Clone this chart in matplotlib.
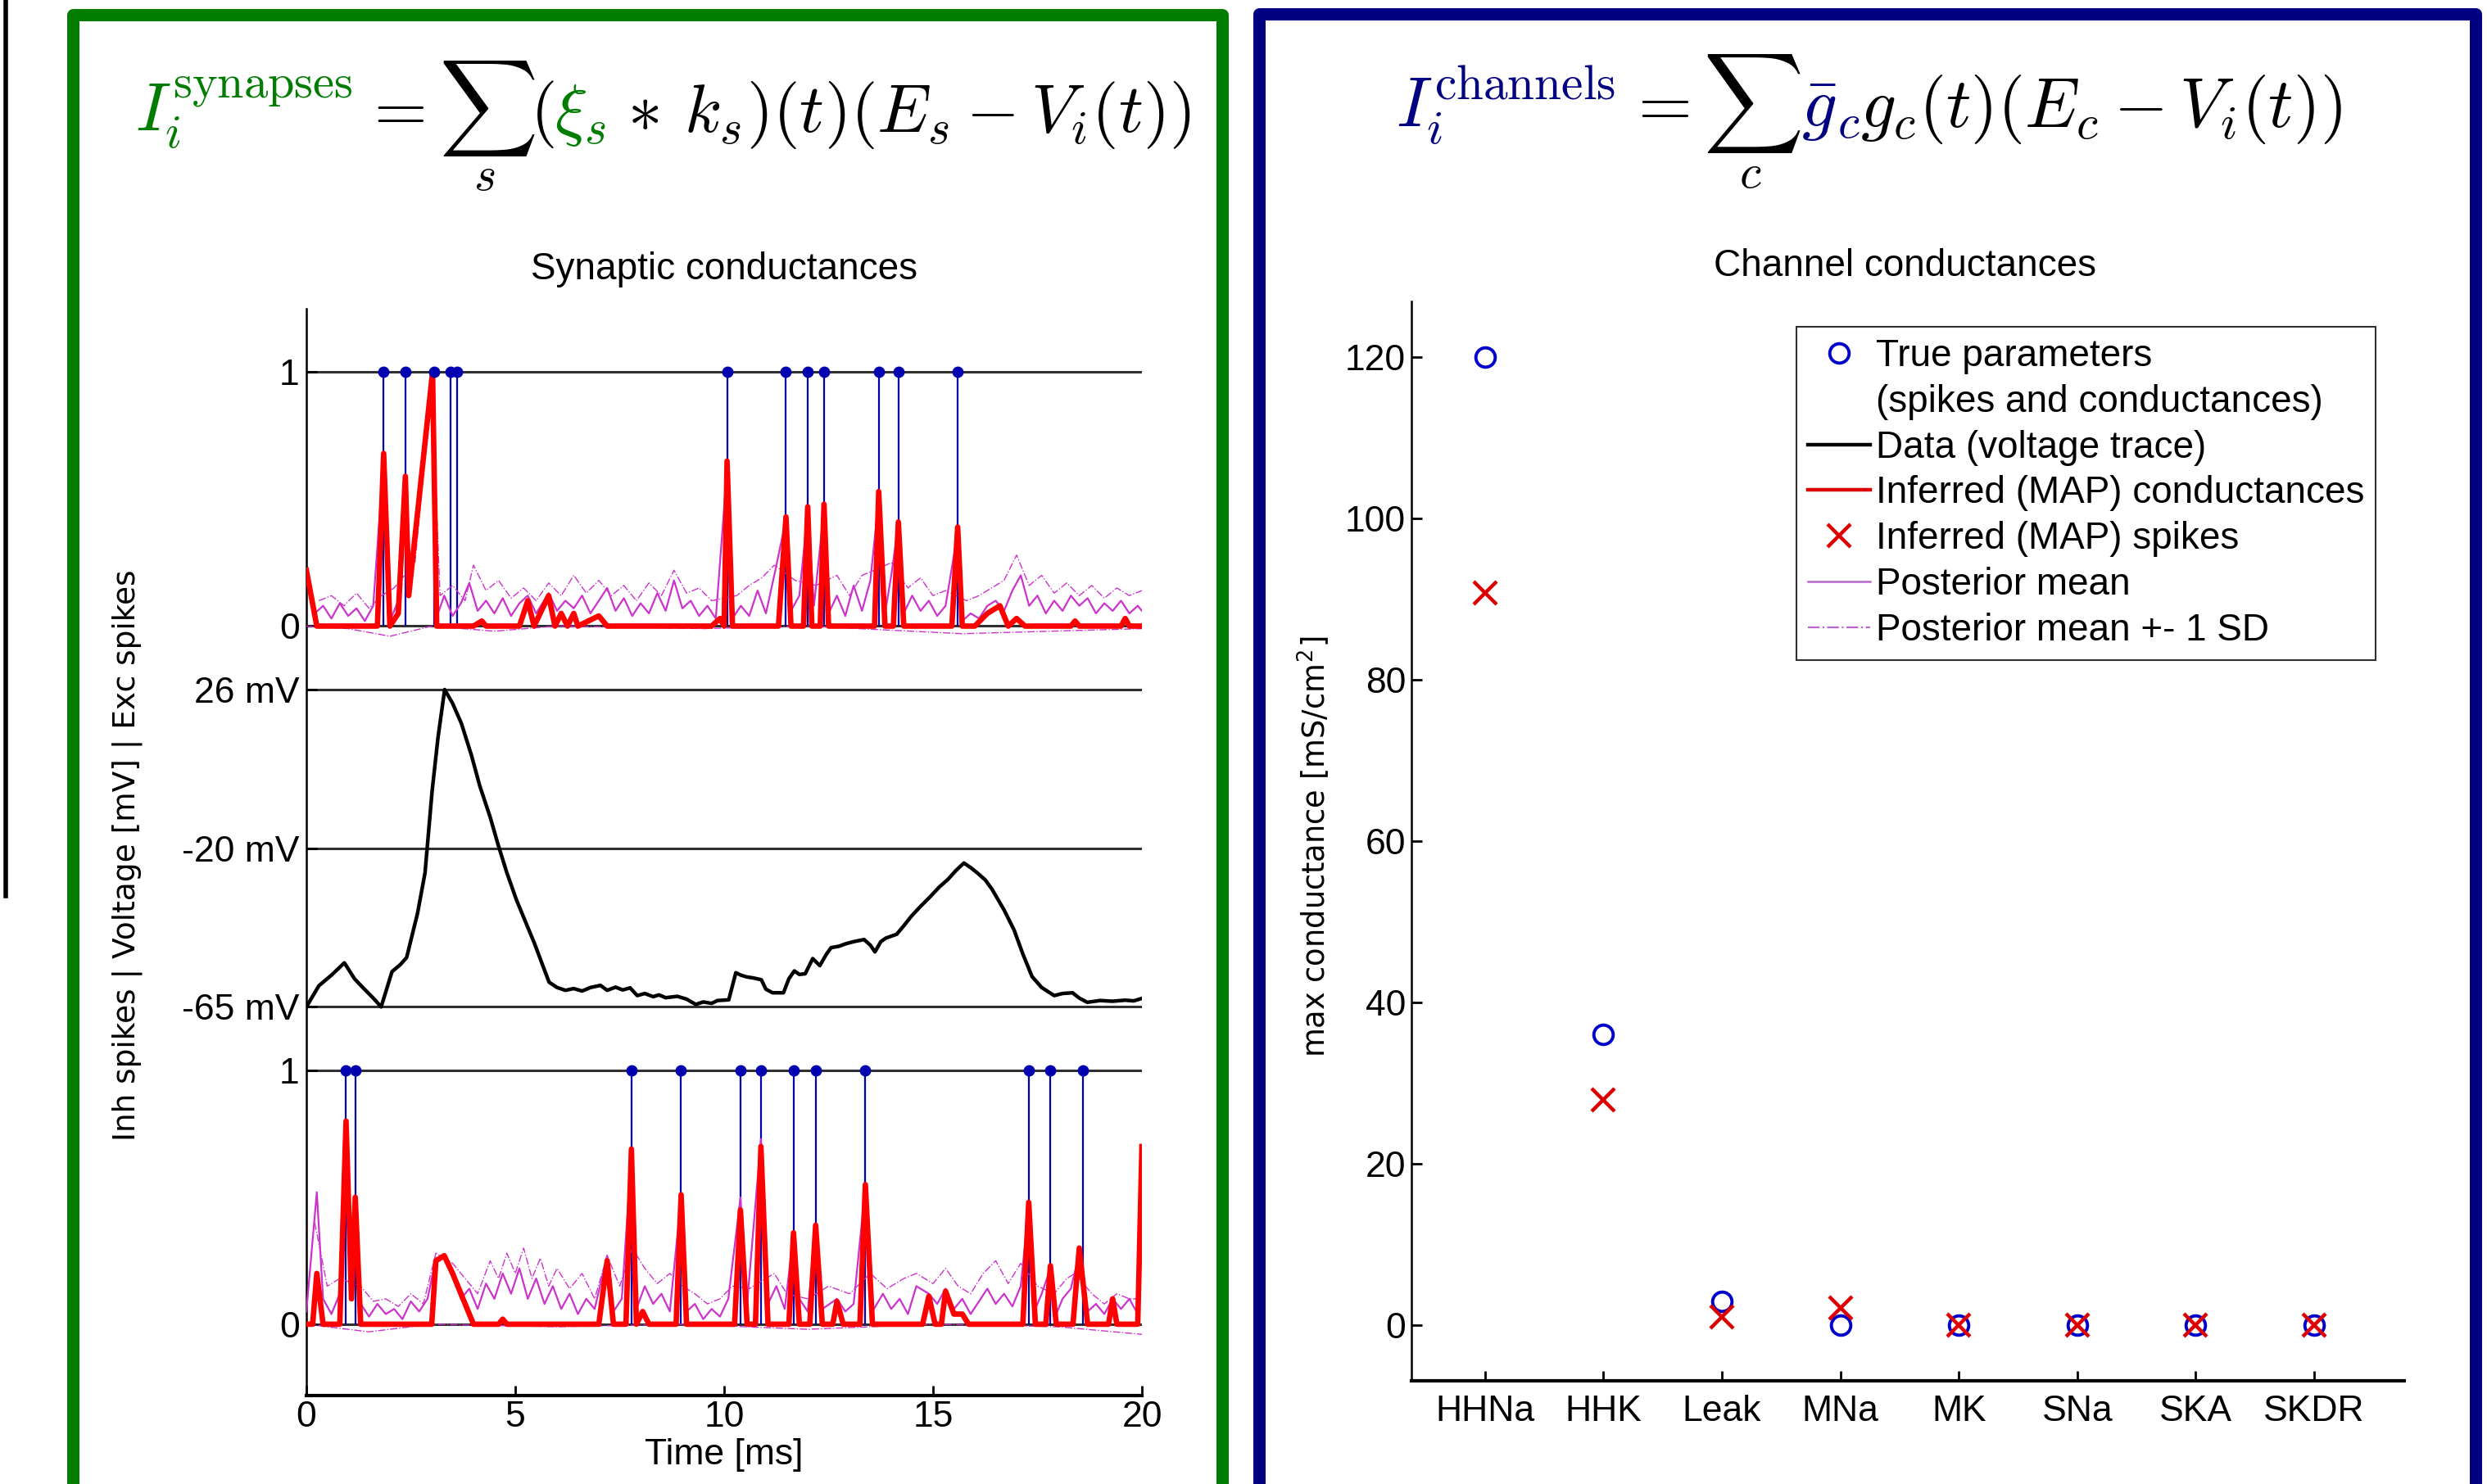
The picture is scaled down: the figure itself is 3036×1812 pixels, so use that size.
import numpy as np
import matplotlib
matplotlib.use("Agg")
import matplotlib.pyplot as plt
from matplotlib.lines import Line2D
from matplotlib.patches import Rectangle

plt.rcParams['font.family'] = ['Liberation Sans', 'DejaVu Sans']
plt.rcParams['mathtext.fontset'] = 'cm'

# -------- DATA: synaptic panel --------
exc_spikes = [1.85, 2.37, 3.05, 3.46, 3.60, 10.07, 11.48, 12.0, 12.39, 13.70, 14.17, 15.59]
inh_spikes = [0.95, 1.17, 7.78, 8.97, 10.39, 10.88, 11.66, 12.19, 13.38, 17.29, 17.81, 18.58]

# inferred (MAP) excitatory conductance, (time ms, normalised g)
exc_map = [(0, 0.22), (0.25, 0.0), (1.7, 0.0), (1.85, 0.68), (2.0, 0.0), (2.2, 0.05), (2.37, 0.59),
           (2.45, 0.12), (3.02, 1.0), (3.12, 0.0), (4.0, 0.0), (4.2, 0.02), (4.3, 0.0), (5.1, 0.0),
           (5.3, 0.1), (5.45, 0.0), (5.8, 0.12), (5.95, 0.0), (6.1, 0.05), (6.25, 0.0), (6.4, 0.05),
           (6.5, 0.0), (7.0, 0.04), (7.2, 0.0), (9.7, 0.0), (9.9, 0.03), (10.0, 0.0), (10.07, 0.65),
           (10.2, 0.0), (11.3, 0.0), (11.48, 0.43), (11.6, 0.0), (11.9, 0.0), (12.0, 0.47), (12.1, 0.0),
           (12.3, 0.0), (12.39, 0.48), (12.5, 0.0), (13.6, 0.0), (13.7, 0.53), (13.85, 0.0), (14.05, 0.0),
           (14.17, 0.41), (14.3, 0.0), (15.45, 0.0), (15.59, 0.39), (15.7, 0.0), (16.0, 0.0), (16.3, 0.05),
           (16.6, 0.08), (16.8, 0.0), (17.0, 0.03), (17.2, 0.0), (18.3, 0.0), (18.4, 0.02), (18.5, 0.0),
           (19.5, 0.0), (19.6, 0.03), (19.7, 0.0), (20, 0.0)]

exc_mean = [(0, 0.2), (0.2, 0.05), (0.4, 0.08), (0.6, 0.03), (0.8, 0.09), (1.0, 0.04), (1.2, 0.07),
            (1.4, 0.02), (1.6, 0.08), (1.85, 0.66), (2.0, 0.02), (2.2, 0.1), (2.37, 0.58), (2.5, 0.2),
            (3.02, 0.98), (3.15, 0.05), (3.3, 0.12), (3.5, 0.04), (3.7, 0.09), (3.9, 0.17), (4.1, 0.06),
            (4.3, 0.1), (4.5, 0.05), (4.7, 0.11), (4.9, 0.04), (5.1, 0.09), (5.3, 0.12), (5.5, 0.05),
            (5.8, 0.13), (6.0, 0.06), (6.2, 0.1), (6.4, 0.07), (6.6, 0.12), (6.8, 0.05), (7.0, 0.1),
            (7.2, 0.15), (7.4, 0.06), (7.6, 0.11), (7.8, 0.04), (8.0, 0.09), (8.2, 0.05), (8.4, 0.13),
            (8.6, 0.06), (8.8, 0.18), (9.0, 0.07), (9.2, 0.1), (9.4, 0.04), (9.6, 0.08), (9.8, 0.03),
            (10.07, 0.62), (10.2, 0.03), (10.4, 0.08), (10.6, 0.04), (10.8, 0.14), (11.0, 0.05), (11.2, 0.2),
            (11.48, 0.42), (11.6, 0.06), (11.8, 0.12), (12.0, 0.45), (12.15, 0.08), (12.39, 0.46),
            (12.5, 0.05), (12.7, 0.12), (12.9, 0.04), (13.1, 0.16), (13.3, 0.06), (13.5, 0.18), (13.7, 0.5),
            (13.85, 0.05), (14.0, 0.2), (14.17, 0.4), (14.3, 0.05), (14.5, 0.12), (14.7, 0.06), (14.9, 0.1),
            (15.1, 0.04), (15.3, 0.08), (15.59, 0.37), (15.7, 0.02), (15.9, 0.05), (16.1, 0.03), (16.3, 0.08),
            (16.5, 0.1), (16.7, 0.06), (16.9, 0.14), (17.1, 0.2), (17.3, 0.08), (17.5, 0.12), (17.7, 0.05),
            (17.9, 0.1), (18.1, 0.06), (18.3, 0.12), (18.5, 0.08), (18.7, 0.11), (18.9, 0.05), (19.1, 0.09),
            (19.3, 0.06), (19.5, 0.1), (19.7, 0.05), (19.9, 0.08), (20, 0.06)]

exc_upper = [(0.3, 0.1), (0.6, 0.12), (0.9, 0.08), (1.2, 0.13), (1.5, 0.07), (1.8, 0.12), (2.1, 0.15),
             (2.6, 0.25), (3.0, 0.95), (3.2, 0.12), (3.5, 0.16), (3.8, 0.1), (4.0, 0.24), (4.3, 0.14),
             (4.6, 0.18), (4.9, 0.11), (5.2, 0.15), (5.5, 0.1), (5.8, 0.17), (6.1, 0.12), (6.4, 0.2),
             (6.7, 0.13), (7.0, 0.18), (7.3, 0.12), (7.6, 0.16), (7.9, 0.1), (8.2, 0.17), (8.5, 0.12),
             (8.8, 0.22), (9.1, 0.13), (9.4, 0.15), (9.7, 0.1), (10.3, 0.12), (10.6, 0.16), (10.9, 0.19),
             (11.2, 0.24), (11.7, 0.18), (12.2, 0.16), (12.7, 0.2), (13.0, 0.12), (13.3, 0.2), (13.6, 0.22),
             (14.0, 0.25), (14.4, 0.15), (14.7, 0.19), (15.0, 0.12), (15.3, 0.14), (15.8, 0.1), (16.1, 0.12),
             (16.4, 0.15), (16.7, 0.18), (17.0, 0.28), (17.3, 0.16), (17.6, 0.2), (17.9, 0.13), (18.2, 0.17),
             (18.5, 0.12), (18.8, 0.16), (19.1, 0.11), (19.4, 0.15), (19.7, 0.12), (20, 0.14)]

exc_lower = [(0, 0.0), (1.0, -0.01), (2.0, -0.04), (3.0, 0.0), (4.5, -0.02), (6, 0.0), (9.5, -0.01),
             (12, 0.0), (15.7, -0.03), (20, -0.01)]

inh_map = [(0, 0.0), (0.15, 0.0), (0.25, 0.2), (0.4, 0.0), (0.8, 0.0), (0.95, 0.8), (1.08, 0.1), (1.17, 0.5),
           (1.3, 0.0), (3.0, 0.0), (3.1, 0.25), (3.3, 0.27), (3.5, 0.2), (3.8, 0.08), (4.0, 0.0), (4.6, 0.0),
           (4.7, 0.02), (4.8, 0.0), (7.0, 0.0), (7.2, 0.25), (7.35, 0.0), (7.65, 0.0), (7.78, 0.69), (7.9, 0.0),
           (8.05, 0.05), (8.2, 0.0), (8.85, 0.0), (8.97, 0.51), (9.1, 0.0), (10.25, 0.0), (10.39, 0.45),
           (10.55, 0.0), (10.75, 0.0), (10.88, 0.7), (11.05, 0.0), (11.55, 0.0), (11.66, 0.36), (11.8, 0.0),
           (12.05, 0.0), (12.19, 0.39), (12.35, 0.0), (12.6, 0.0), (12.7, 0.09), (12.85, 0.0), (13.25, 0.0),
           (13.38, 0.55), (13.55, 0.0), (14.75, 0.0), (14.9, 0.11), (15.05, 0.0), (15.2, 0.0), (15.3, 0.13),
           (15.5, 0.04), (15.7, 0.04), (15.85, 0.0), (17.15, 0.0), (17.29, 0.48), (17.45, 0.0), (17.7, 0.0),
           (17.81, 0.23), (17.95, 0.0), (18.35, 0.0), (18.5, 0.3), (18.7, 0.0), (19.2, 0.0), (19.3, 0.1),
           (19.4, 0.0), (19.9, 0.0), (20.0, 0.7)]

inh_mean = [(0, 0.05), (0.25, 0.52), (0.4, 0.1), (0.6, 0.04), (0.8, 0.12), (0.95, 0.78), (1.08, 0.15),
            (1.17, 0.5), (1.3, 0.08), (1.5, 0.03), (1.7, 0.08), (1.9, 0.04), (2.1, 0.06), (2.3, 0.02),
            (2.5, 0.09), (2.7, 0.05), (2.9, 0.1), (3.1, 0.26), (3.3, 0.27), (3.5, 0.2), (3.7, 0.1), (3.9, 0.14),
            (4.1, 0.06), (4.3, 0.16), (4.5, 0.1), (4.7, 0.2), (4.9, 0.12), (5.1, 0.22), (5.3, 0.1), (5.5, 0.18),
            (5.7, 0.08), (5.9, 0.15), (6.1, 0.06), (6.3, 0.12), (6.5, 0.04), (6.7, 0.1), (6.9, 0.06), (7.2, 0.27),
            (7.35, 0.05), (7.55, 0.1), (7.78, 0.67), (7.9, 0.06), (8.1, 0.15), (8.3, 0.08), (8.5, 0.12),
            (8.7, 0.05), (8.97, 0.5), (9.1, 0.05), (9.3, 0.08), (9.5, 0.02), (9.7, 0.06), (9.9, 0.03), (10.1, 0.1),
            (10.39, 0.5), (10.55, 0.08), (10.88, 0.73), (11.05, 0.08), (11.25, 0.15), (11.45, 0.06), (11.66, 0.35),
            (11.8, 0.1), (12.0, 0.05), (12.19, 0.38), (12.35, 0.06), (12.7, 0.1), (12.9, 0.05), (13.1, 0.08),
            (13.38, 0.54), (13.55, 0.05), (13.8, 0.12), (14.0, 0.06), (14.2, 0.1), (14.4, 0.04), (14.6, 0.15),
            (14.9, 0.12), (15.1, 0.08), (15.3, 0.14), (15.5, 0.06), (15.7, 0.1), (15.9, 0.04), (16.1, 0.09),
            (16.3, 0.14), (16.5, 0.08), (16.7, 0.12), (16.9, 0.07), (17.1, 0.15), (17.29, 0.46), (17.45, 0.06),
            (17.6, 0.12), (17.81, 0.22), (17.95, 0.04), (18.1, 0.1), (18.3, 0.14), (18.5, 0.28), (18.7, 0.05),
            (18.9, 0.08), (19.1, 0.04), (19.3, 0.1), (19.5, 0.06), (19.7, 0.1), (19.9, 0.04), (20, 0.68)]

inh_upper = [(0.2, 0.4), (0.5, 0.15), (0.8, 0.18), (1.3, 0.15), (1.6, 0.09), (1.9, 0.1), (2.2, 0.07),
             (2.5, 0.12), (2.8, 0.08), (3.1, 0.28), (3.5, 0.24), (3.8, 0.18), (4.1, 0.12), (4.4, 0.25),
             (4.6, 0.18), (4.8, 0.28), (5.0, 0.2), (5.2, 0.3), (5.4, 0.18), (5.6, 0.26), (5.8, 0.15), (6.0, 0.22),
             (6.3, 0.14), (6.6, 0.2), (6.9, 0.1), (7.2, 0.27), (7.5, 0.15), (7.8, 0.3), (8.1, 0.22), (8.4, 0.16),
             (8.7, 0.2), (9.0, 0.15), (9.3, 0.12), (9.6, 0.08), (9.9, 0.1), (10.2, 0.15), (10.6, 0.14),
             (11.2, 0.2), (11.5, 0.12), (12.0, 0.1), (12.5, 0.15), (13.0, 0.12), (13.5, 0.2), (13.9, 0.14),
             (14.3, 0.18), (14.6, 0.2), (15.0, 0.16), (15.3, 0.22), (15.6, 0.15), (15.9, 0.12), (16.2, 0.2),
             (16.5, 0.25), (16.8, 0.16), (17.1, 0.24), (17.5, 0.15), (17.9, 0.12), (18.2, 0.18), (18.4, 0.2),
             (18.8, 0.12), (19.1, 0.08), (19.4, 0.12), (19.7, 0.1), (20, 0.1)]

inh_lower = [(0, 0.0), (1.5, -0.03), (3, 0.0), (6, -0.01), (9, 0.0), (12, -0.02), (15, 0.0), (18, -0.01),
             (20, -0.04)]

# voltage trace (ms, mV)
volt_t = [0.0, 0.3, 0.6, 0.91, 1.15, 1.35, 1.6, 1.79, 2.05, 2.25, 2.4, 2.66, 2.84, 3.01, 3.15, 3.31, 3.5,
          3.71, 3.95, 4.15, 4.4, 4.59, 4.8, 5.03, 5.25, 5.46, 5.65, 5.81, 6.0, 6.2, 6.4, 6.6, 6.8, 7.04, 7.2,
          7.4, 7.57, 7.75, 7.92, 8.1, 8.3, 8.44, 8.6, 8.88, 9.1, 9.32, 9.5, 9.7, 9.84, 10.11, 10.28, 10.4,
          10.54, 10.7, 10.89, 11.0, 11.16, 11.42, 11.55, 11.68, 11.8, 11.94, 12.12, 12.29, 12.45, 12.56,
          12.75, 12.91, 13.1, 13.35, 13.5, 13.61, 13.75, 13.87, 14.13, 14.3, 14.48, 14.7, 14.92, 15.15,
          15.36, 15.55, 15.74, 15.9, 16.06, 16.25, 16.41, 16.7, 16.94, 17.15, 17.37, 17.6, 17.9, 18.1,
          18.34, 18.5, 18.69, 19.0, 19.3, 19.6, 19.8, 20.0]
volt_mv = [-65, -59, -56, -52.5, -57, -59.5, -62.5, -65, -55, -53, -51, -38.5, -27, -3.4, 12, 26, 22,
           16.2, 7, -1.9, -11, -19, -27, -34.7, -41, -47, -53, -58, -59.5, -60.3, -59.8, -60.5, -59.5, -58.9,
           -60.3, -59.4, -60.2, -59.6, -61.8, -61.2, -62.1, -61.6, -62.4, -62.0, -62.8, -64.3, -63.6, -64.0,
           -63.2, -63.0, -55.3, -56.0, -56.5, -56.8, -57.3, -60, -61, -61, -57, -54.8, -55.8, -55.6, -51.3,
           -53.3, -50, -48.2, -47.8, -47.1, -46.5, -45.9, -47.5, -49.4, -46.5, -45.5, -44.4, -42, -39.3,
           -36.5, -33.9, -31, -28.8, -26.3, -24.2, -25.5, -27, -29, -31.6, -37.5, -43.2, -50, -56.4, -59.5,
           -61.8, -61.2, -61.0, -62.5, -63.7, -63.2, -63.4, -63.1, -63.3, -62.6]

volt_ticks = [-65, -20, 26]
volt_labels = ['-65 mV', '-20 mV', '26 mV']

# -------- DATA: channel panel --------
channels = ['HHNa', 'HHK', 'Leak', 'MNa', 'MK', 'SNa', 'SKA', 'SKDR']
true_g = [120, 36, 2.9, 0, 0, 0, 0, 0]
map_g = [90.8, 27.9, 1.0, 2.1, 0, 0, 0, 0]

# -------- STYLE --------
GREEN = '#007c00'
NAVY = '#000080'
RED = '#ff0000'
MAG = '#cc33cc'
LEG_MAG = '#b868cc'
SPIKE_BLUE = '#0000b0'

# vertical layout of the stacked panels on a single axis
INH0, VOLT_POS, EXC0 = 0.0, [1.25, 1.875, 2.5], 2.75

W, H = 3036, 1812
fig = plt.figure(figsize=(W / 100, H / 100), dpi=100)

# frames (bottom edge runs off the page)
fig.add_artist(Rectangle((89 / W, -0.05), (1492 - 89) / W, 1.05 - 18 / H, transform=fig.transFigure,
                         fill=False, edgecolor=GREEN, lw=10.8, joinstyle='round'))
fig.add_artist(Rectangle((1537 / W, -0.05), (3022 - 1537) / W, 1.05 - 17 / H, transform=fig.transFigure,
                         fill=False, edgecolor=NAVY, lw=10.8, joinstyle='round'))
fig.add_artist(Line2D([7 / W, 7 / W], [1.0, 1 - 1094 / H], transform=fig.transFigure, color='black', lw=4))


def xy(pairs):
    a = np.array(pairs, dtype=float)
    return a[:, 0], a[:, 1]


# -------- LEFT: synaptic conductances --------
ax1 = fig.add_axes([374 / W, 1 - 1704 / H, 1020 / W, (1704 - 377) / H])

for base in [INH0, INH0 + 1, EXC0, EXC0 + 1]:
    ax1.plot([0, 20], [base, base], color='#303030', lw=2.2, zorder=1)
for yv in VOLT_POS:
    ax1.plot([0, 20], [yv, yv], color='#303030', lw=2.2, zorder=1)

for spikes, base, mapd, mean, up, lo in [(exc_spikes, EXC0, exc_map, exc_mean, exc_upper, exc_lower),
                                         (inh_spikes, INH0, inh_map, inh_mean, inh_upper, inh_lower)]:
    ax1.vlines(spikes, base, base + 1, color=SPIKE_BLUE, lw=1.6, zorder=2)
    t, g = xy(up)
    ax1.plot(t, base + g, color=MAG, lw=1.0, ls='-.', zorder=3)
    t, g = xy(lo)
    ax1.plot(t, base + g, color=MAG, lw=1.0, ls='-.', zorder=3)
    t, g = xy(mean)
    ax1.plot(t, base + g, color=MAG, lw=1.6, zorder=3)
    t, g = xy(mapd)
    ax1.plot(t, base + g, color=RED, lw=4.8, zorder=4, solid_joinstyle='round')
    ax1.plot(spikes, [base + 1] * len(spikes), 'o', color=SPIKE_BLUE, ms=9, zorder=5)

vy = np.interp(volt_mv, volt_ticks, VOLT_POS)
ax1.plot(volt_t, vy, color='black', lw=3.2, zorder=4)

ax1.set_xlim(0, 20)
ax1.set_ylim(-0.281, 4.0)
ax1.set_yticks([INH0, INH0 + 1] + VOLT_POS + [EXC0, EXC0 + 1])
ax1.set_yticklabels(['0', '1'] + volt_labels + ['0', '1'])
ax1.set_xticks([0, 5, 10, 15, 20])
for s in ['top', 'right']:
    ax1.spines[s].set_visible(False)
ax1.spines['bottom'].set_linewidth(3)
ax1.spines['left'].set_linewidth(1.8)
ax1.tick_params(axis='both', direction='in', length=9, width=2, labelsize=32)
ax1.tick_params(axis='y', pad=6)
ax1.tick_params(axis='x', pad=4)
ax1.set_xlabel('Time [ms]', fontsize=32)
ax1.xaxis.set_label_coords(0.5, -0.039)
ax1.set_ylabel('Inh spikes | Voltage [mV] | Exc spikes', fontsize=27, family=['DejaVu Sans'])
ax1.yaxis.set_label_coords(-0.196, 0.497)
fig.text(884 / W, 1 - 329 / H, 'Synaptic conductances', fontsize=33, ha='center', va='center')

# -------- RIGHT: channel conductances --------
ax2 = fig.add_axes([1723 / W, 1 - 1686 / H, (2935 - 1723) / W, (1686 - 368) / H])
pos = np.arange(1, len(channels) + 1)
ax2.plot(pos, true_g, 'o', mfc='none', mec='#0000cc', ms=17, mew=2.8, zorder=3)
ax2.plot(pos, map_g, 'x', color='#dd0000', ms=20, mew=3.2, zorder=4)
ax2.set_xlim(0.38, 8.76)
ax2.set_ylim(-6.9, 126.9)
ax2.set_xticks(pos)
ax2.set_xticklabels(channels)
ax2.set_yticks(range(0, 121, 20))
for s in ['top', 'right']:
    ax2.spines[s].set_visible(False)
ax2.spines['bottom'].set_linewidth(3)
ax2.spines['left'].set_linewidth(1.8)
ax2.tick_params(axis='both', direction='in', length=9, width=2, labelsize=32)
ax2.tick_params(axis='x', pad=12)
ax2.tick_params(axis='y', pad=5)
ax2.set_ylabel(r'max conductance [mS/cm$^\mathregular{2}$]', fontsize=26.5, family=['DejaVu Sans'])
ax2.yaxis.set_label_coords(-0.080, 0.495)
fig.text(2326 / W, 1 - 325 / H, 'Channel conductances', fontsize=33, ha='center', va='center')

handles = [Line2D([], [], marker='o', ls='none', mfc='none', mec='#0000cc', ms=17, mew=2.8),
           Line2D([], [], ls='none'),
           Line2D([], [], color='black', lw=3.2),
           Line2D([], [], color='#dd0000', lw=3.2),
           Line2D([], [], marker='x', ls='none', color='#dd0000', ms=20, mew=3.2),
           Line2D([], [], color=LEG_MAG, lw=1.8),
           Line2D([], [], color=LEG_MAG, lw=1.6, ls='-.')]
labels = ['True parameters', '(spikes and conductances)', 'Data (voltage trace)',
          'Inferred (MAP) conductances', 'Inferred (MAP) spikes', 'Posterior mean',
          'Posterior mean +- 1 SD']
leg = ax2.legend(handles, labels, loc='upper right', bbox_to_anchor=(0.971, 0.9765), borderaxespad=0,
                 fontsize=33, frameon=True, fancybox=False, framealpha=1, edgecolor='#303030',
                 handlelength=1.65, handletextpad=0.15, labelspacing=0.26, borderpad=0.3)
leg.get_frame().set_linewidth(1.5)

# -------- EQUATIONS --------
renderer = fig.canvas.get_renderer()


def math_row(parts, x, y, size):
    for s, c in parts:
        t = fig.text(x, y, s, color=c, fontsize=size, ha='left', va='baseline')
        bb = t.get_window_extent(renderer=renderer)
        x = bb.x1 / fig.bbox.width


math_row([(r'$I_i^{\mathrm{synapses}}$', GREEN), (r'$\,=\sum_{s}($', 'black'), (r'$\xi_s$', GREEN),
          (r'$\,\ast\,k_s)(t)(E_s-V_i(t))$', 'black')], 165 / W, 1 - 161 / H, 60)
math_row([(r'$I_i^{\mathrm{channels}}$', NAVY), (r'$\,=\sum_{c}$', 'black'), (r'$\bar{g}_c$', NAVY),
          (r'$g_c(t)(E_c-V_i(t))$', 'black')], 1704 / W, 1 - 155 / H, 61)

fig.savefig('out.png', dpi=100, facecolor='white')
